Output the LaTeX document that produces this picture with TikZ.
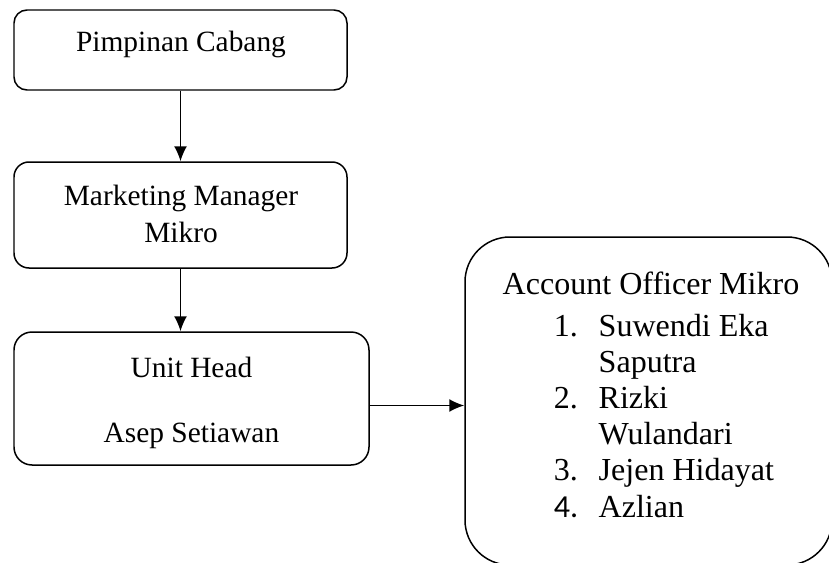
\documentclass[tikz,border=0pt]{standalone}
\usepackage{fontspec}
\setmainfont{Liberation Serif}
\newfontfamily\numfont{Carlito}
\usetikzlibrary{arrows.meta}
\newlength\pxu
\setlength\pxu{0.01524cm}
\tikzset{
  orgbox/.style={draw, inner sep=0pt},
  orgtext/.style={inner sep=0pt, anchor=base}
}

\begin{document}
\begin{tikzpicture}[x=0.01524cm, y=-0.01524cm, line width=0.65pt,
    >={Latex[length=6.5pt,width=5.6pt]}, font=\fontsize{12.75pt}{16pt}\selectfont]

    \useasboundingbox (0,0) rectangle (829,563);

    % the four boxes
    \node[orgbox, minimum width=333\pxu, minimum height=80\pxu, rounded corners=13\pxu] (pc) at (180.5,50) {};
    \node[orgbox, minimum width=333\pxu, minimum height=106\pxu, rounded corners=15\pxu] (mm) at (180.5,215) {};
    \node[orgbox, minimum width=355\pxu, minimum height=133\pxu, rounded corners=18\pxu] (uh) at (191.5,398.5) {};
    \node[orgbox, minimum width=367\pxu, minimum height=328\pxu, rounded corners=45\pxu] (ao) at (648.5,401) {};

    % texts (base of a multi-line node = its last line)
    \node[orgtext] (pcName) at (181,52) {Pimpinan Cabang};
    \node[orgtext, align=center] (mmName) at (181,242) {Marketing Manager\\Mikro};
    \node[orgtext, align=center] (uhName) at (191.5,442) {Unit Head\\[12pt]Asep Setiawan};
    \node[orgtext, font=\fontsize{13.9pt}{16pt}\selectfont] (aoName) at (651,294) {Account Officer Mikro};
    \node[orgtext, anchor=base west, align=left, font=\fontsize{13.9pt}{15.7pt}\selectfont] (aoList) at (553,517)
      {\makebox[19.5pt][l]{1.}Suwendi Eka\\
       \hspace*{19.5pt}Saputra\\
       \makebox[19.5pt][l]{2.}Rizki\\
       \hspace*{19.5pt}Wulandari\\
       \makebox[19.5pt][l]{3.}Jejen Hidayat\\
       \makebox[19.5pt][l]{\numfont 4.}Azlian};

    % arrows
    \draw[->] (pc) -- (mm);
    \draw[->] (mm.south) -- (mm.south |- uh.north);
    \draw[->] ([yshift=-7\pxu]uh.east) -- ([yshift=-7\pxu]uh.east -| ao.west);

\end{tikzpicture}
\end{document}
